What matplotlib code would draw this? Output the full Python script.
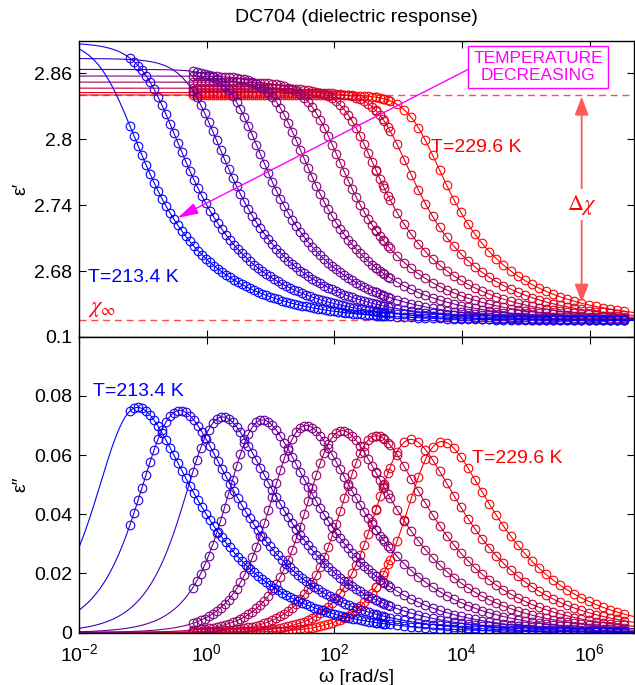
import numpy as np
import matplotlib
matplotlib.use("Agg")
import matplotlib.pyplot as plt
from matplotlib.ticker import FixedLocator, NullLocator, FixedFormatter

plt.rcParams['font.family'] = ['Liberation Sans', 'DejaVu Sans']
plt.rcParams['font.size'] = 14
plt.rcParams['mathtext.fontset'] = 'custom'
plt.rcParams['mathtext.rm'] = 'Liberation Sans'
plt.rcParams['mathtext.it'] = 'Liberation Sans:italic'
plt.rcParams['mathtext.bf'] = 'Liberation Sans:bold'

# ---- data ----
temperatures = [213.4, 215.4, 217.4, 219.4, 221.5, 223.5, 225.5, 227.6, 229.6]   # K
log_peak_freq = [-1.08, -0.42, 0.25, 0.875, 1.56, 2.125, 2.66, 3.20, 3.69]      # log10 rad/s
eps_static = [2.8915, 2.888, 2.8735, 2.8635, 2.8575, 2.852, 2.8465, 2.8425, 2.8403]
hn_alpha = [0.92, 0.92, 0.96, 1.0, 1.0, 1.0, 1.0, 1.0, 1.0]
hn_beta = [0.446, 0.446, 0.427, 0.41, 0.41, 0.41, 0.41, 0.41, 0.41]
eps_inf = 2.6355
log_first_freq = [-1.2, -1.2, -0.22, -0.22, -0.22, -0.22, -0.22, -0.22, -0.22]
log_low_end, log_high_start, log_last_freq = 2.86, 2.65, 6.63
top_ticks = [2.68, 2.74, 2.8, 2.86]
bottom_ticks = [0, 0.02, 0.04, 0.06, 0.08, 0.1]
x_ticks = [1e-2, 1e0, 1e2, 1e4, 1e6]


def hn(w, i):
    a, b = hn_alpha[i], hn_beta[i]
    wp_tau = (np.sin(np.pi * a / (2 * b + 2)) / np.sin(np.pi * a * b / (2 * b + 2))) ** (1 / a)
    tau = wp_tau / 10 ** log_peak_freq[i]
    de = eps_static[i] - eps_inf
    return eps_inf + de / (1 + (1j * w * tau) ** a) ** b


fig = plt.figure(figsize=(6.35, 6.85), dpi=100)
L, W = 79 / 635, 555 / 635
ax1 = fig.add_axes([L, 1 - 336.7 / 685, W, 296 / 685])
ax2 = fig.add_axes([L, 1 - 632.5 / 685, W, 295.8 / 685])

w_line = np.logspace(-2, 6.72, 700)
n = len(temperatures)
for i in reversed(range(n)):
    t = i / (n - 1)
    col = (t, 0, 1 - t)
    w_meas = np.concatenate([10 ** np.arange(log_first_freq[i], log_low_end, 1 / 16),
                             10 ** np.arange(log_high_start, log_last_freq, 1 / 9)])
    el = hn(w_line, i)
    em = hn(w_meas, i)
    ax1.plot(w_line, el.real, '-', color=col, lw=0.8)
    ax1.plot(w_meas, em.real, 'o', mfc='none', mec=col, ms=6.2, mew=0.8)
    ax2.plot(w_line, -el.imag, '-', color=col, lw=0.8)
    ax2.plot(w_meas, -em.imag, 'o', mfc='none', mec=col, ms=6.2, mew=0.8)

xlim = (1e-2, 10 ** 6.695)
for ax in (ax1, ax2):
    ax.set_xscale('log')
    ax.set_xlim(*xlim)
    ax.xaxis.set_major_locator(FixedLocator(x_ticks))
    ax.xaxis.set_minor_locator(NullLocator())
    ax.tick_params(direction='in', top=True, right=True, length=5, width=0.8, pad=5)
    for s in ax.spines.values():
        s.set_linewidth(1.0)

ax1.set_ylim(2.6207, 2.8896)
ax1.yaxis.set_major_locator(FixedLocator(top_ticks))
ax1.yaxis.set_major_formatter(FixedFormatter(['2.68', '2.74', '2.8', '2.86']))
ax1.tick_params(labelbottom=False)
ax2.set_ylim(0, 0.1)
ax2.yaxis.set_major_locator(FixedLocator(bottom_ticks))
ax2.yaxis.set_major_formatter(FixedFormatter(['0', '0.02', '0.04', '0.06', '0.08', '0.1']))
ax2.xaxis.set_major_formatter(FixedFormatter(['$10^{%d}$' % int(round(np.log10(v))) for v in x_ticks]))
ax2.tick_params(axis='x', pad=7.5)

ax1.set_ylabel('ε′', fontsize=14)
ax2.set_ylabel('ε″', fontsize=14)
ax1.yaxis.set_label_coords(-0.090, 0.5)
ax2.yaxis.set_label_coords(-0.090, 0.5)
fig.text(L + W / 2, 1 - 678 / 685, 'ω [rad/s]', ha='center', va='center', fontsize=14)
fig.text(L + W / 2, 1 - 17 / 685, 'DC704 (dielectric response)', ha='center', va='center', fontsize=14)

# reference lines and annotations
dash_col = (1, 0.3, 0.3)
ax1.axhline(eps_static[-1], color=dash_col, lw=1, ls=(0, (5, 3.5)), zorder=1)
ax1.axhline(eps_inf, color=dash_col, lw=1, ls=(0, (5, 3.5)), zorder=1)

x_arrow = 10 ** 5.875
ax1.annotate('', xy=(x_arrow, 2.8388), xytext=(x_arrow, 2.6516),
             arrowprops=dict(arrowstyle='<|-|>,head_length=0.8,head_width=0.3',
                             color=(1, 0.35, 0.35), lw=1.3, mutation_scale=14,
                             shrinkA=0, shrinkB=0))
ax1.text(x_arrow, 2.7405, r'$\Delta\chi$', color='red', ha='center', va='center', fontsize=16,
         math_fontfamily='stix', bbox=dict(boxstyle='square,pad=0.15', fc='white', ec='none'))

ax1.annotate('', xy=(10 ** -0.453, 2.7287), xytext=(10 ** 4.14, 2.8648),
             arrowprops=dict(arrowstyle='-|>,head_length=0.9,head_width=0.25',
                             color='magenta', lw=1, mutation_scale=14, shrinkA=0, shrinkB=0))
ax1.text(10 ** 5.195, 2.8657, 'TEMPERATURE\nDECREASING', color='magenta', ha='center', va='center',
         fontsize=12.5, linespacing=1.1,
         bbox=dict(boxstyle='square,pad=0.3', fc='white', ec='magenta', lw=1))

ax1.text(10 ** 3.516, 2.7922, 'T=%.1f K' % temperatures[-1], color='red', ha='left', va='center', fontsize=14)
ax1.text(10 ** -1.86, 2.6743, 'T=%.1f K' % temperatures[0], color='blue', ha='left', va='center', fontsize=14)
ax1.text(10 ** -1.86, 2.6461, r'$\chi_{\infty}$', color='red', ha='left', va='center', fontsize=16,
         math_fontfamily='stix')

ax2.text(10 ** -1.78, 0.0814, 'T=%.1f K' % temperatures[0], color='blue', ha='left', va='center', fontsize=14)
ax2.text(10 ** 4.161, 0.0589, 'T=%.1f K' % temperatures[-1], color='red', ha='left', va='center', fontsize=14)

fig.savefig('out.png', dpi=100)
